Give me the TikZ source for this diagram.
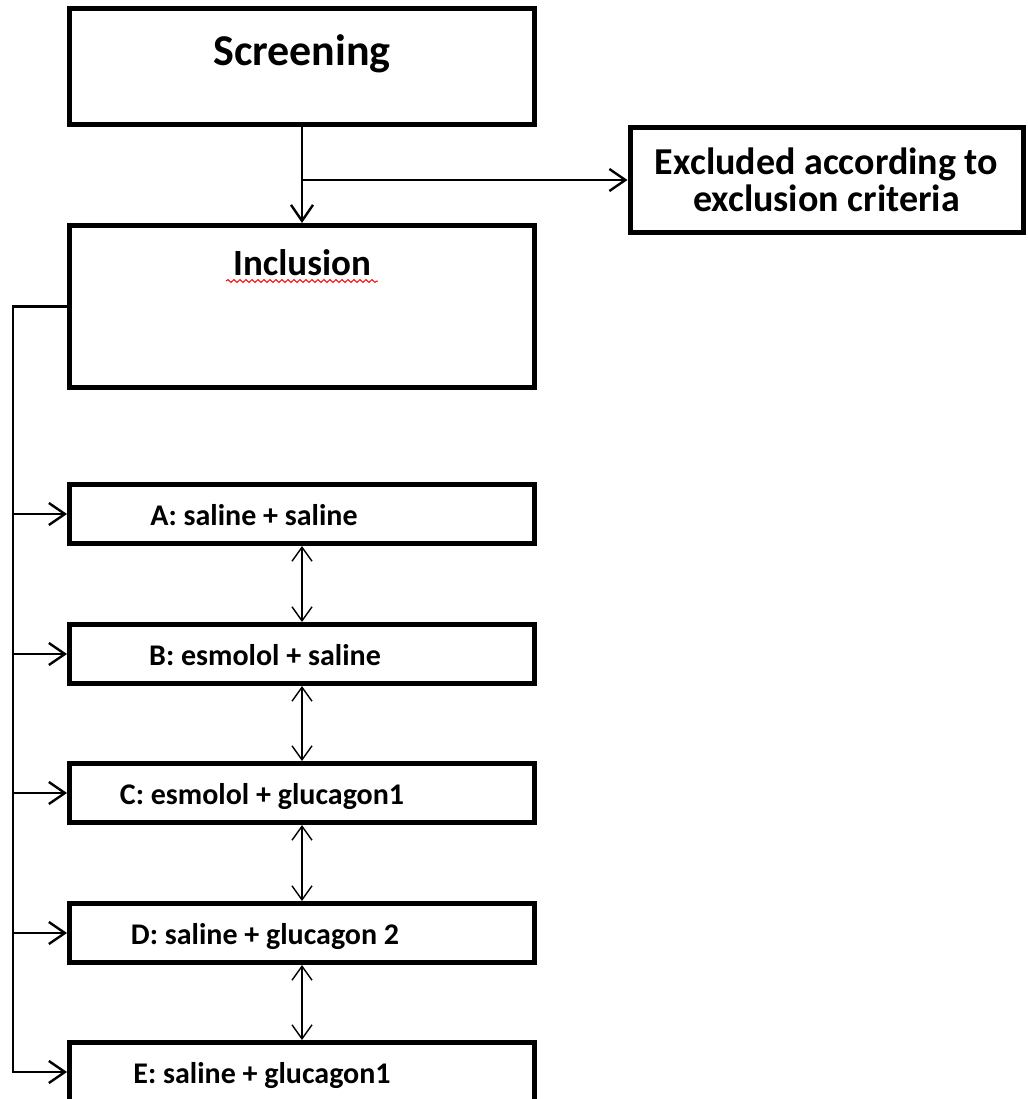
\documentclass[tikz,border=0pt]{standalone}
\usepackage{fontspec}
\setmainfont{Carlito}
\usetikzlibrary{arrows.meta,decorations.pathmorphing}

\begin{document}
\begin{tikzpicture}[x=0.5pt,y=-0.5pt,
    box/.style={draw, line width=2.5pt, inner sep=0pt},
    grp/.style={box, minimum width=232.5pt, minimum height=29.5pt},
    grptext/.style={anchor=base, font=\bfseries\fontsize{15pt}{18pt}\selectfont},
    arr/.style={line width=1.2pt, -{Straight Barb[length=8pt,width=11pt]}},
    dbl/.style={line width=0.7pt, {Straight Barb[length=7pt,width=10pt]}-{Straight Barb[length=7pt,width=10pt]}}]
    \useasboundingbox (0,0) rectangle (1028,1099);
    % Screening and exclusion
    \node[box, minimum width=232.5pt, minimum height=58pt] (scr) at (302,66.5) {};
    \node[anchor=base, font=\bfseries\fontsize{22pt}{26pt}\selectfont] (scrtext) at (302,65) {Screening};
    \node[box, minimum width=196.5pt, minimum height=52.5pt, align=center,
          font=\bfseries\fontsize{19pt}{18.5pt}\selectfont] (excl) at (826.5,180) {Excluded according to\\exclusion criteria};
    % Inclusion
    \node[box, minimum width=232.5pt, minimum height=81pt] (incl) at (302,306.5) {};
    \node[anchor=base, font=\bfseries\fontsize{18.5pt}{22pt}\selectfont] (incltext) at (302,275) {Inclusion};
    \draw[red, line width=0.5pt, decorate, decoration={snake, amplitude=0.7pt, segment length=3pt}]
        ([yshift=-3pt]incltext.base west) -- ([yshift=-3pt]incltext.base east);
    % Groups
    \node[grp] (a) at (302,514) {};
    \node[grptext] (atext) at (254,525) {A: saline + saline};
    \node[grp] (b) at (302,654) {};
    \node[grptext] (btext) at (265,665) {B: esmolol + saline};
    \node[grp] (c) at (302,793) {};
    \node[grptext] (ctext) at (262,804) {C: esmolol + glucagon1};
    \node[grp] (d) at (302,933) {};
    \node[grptext] (dtext) at (265,944) {D: saline + glucagon 2};
    \node[grp] (e) at (302,1072) {};
    \node[grptext] (etext) at (262,1083) {E: saline + glucagon1};
    % Connectors
    \draw[arr] (scr.south) -- (incl.north);
    \draw[arr] (scr.south |- excl.west) -- (excl.west);
    \draw[arr] (incl.west) -- ++(-54,0) coordinate (trunk) |- (e.west);
    \draw[arr] (trunk |- a.west) -- (a.west);
    \draw[arr] (trunk |- b.west) -- (b.west);
    \draw[arr] (trunk |- c.west) -- (c.west);
    \draw[arr] (trunk |- d.west) -- (d.west);
    \draw[dbl] (a.south) -- (b.north);
    \draw[dbl] (b.south) -- (c.north);
    \draw[dbl] (c.south) -- (d.north);
    \draw[dbl] (d.south) -- (e.north);
\end{tikzpicture}
\end{document}
